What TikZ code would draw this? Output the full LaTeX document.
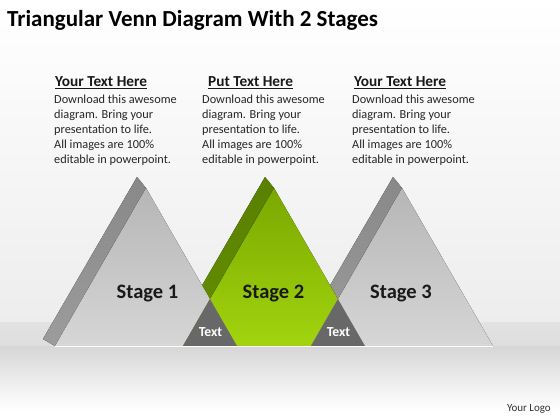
\documentclass[tikz,border=0pt]{standalone}
\usepackage{fontspec}
\setmainfont{Carlito}
\usetikzlibrary{calc}

\definecolor{frontlight}{HTML}{D6D6D6}
\definecolor{frontdark}{HTML}{B6B6B6}
\definecolor{sidelight}{HTML}{9C9C9C}
\definecolor{sidedark}{HTML}{888888}
\definecolor{greenlight}{HTML}{A2D40E}
\definecolor{greendark}{HTML}{7BA800}
\definecolor{greenside}{HTML}{668F00}
\definecolor{greensidedark}{HTML}{5A8000}
\definecolor{lensgray}{HTML}{686868}
\definecolor{floorgray}{HTML}{E2E2E2}
\definecolor{bodytext}{HTML}{262626}

\tikzset{
  side/.style={top color=sidedark,bottom color=sidelight},
  front/.style={top color=frontdark,bottom color=frontlight},
  stagelabel/.style={font=\bfseries\fontsize{20.5}{24}\selectfont,text=black!90,anchor=base,inner sep=0pt},
  lenslabel/.style={font=\bfseries\fontsize{13.8}{16}\selectfont,text=white,anchor=base,inner sep=0pt},
  headlabel/.style={font=\bfseries\fontsize{15.3}{18}\selectfont,text=black!90,anchor=base west,inner sep=0pt},
  bodylabel/.style={font=\fontsize{12.3}{15}\selectfont,text=bodytext,align=left,anchor=north west,inner sep=0pt}
}

\begin{document}
\begin{tikzpicture}[x=1pt,y=-1pt]
\useasboundingbox (0,0) rectangle (560,420);

% background and floor
\fill[top color=white,bottom color=white!93!black] (0,0) rectangle (560,322);
\fill[top color=floorgray,bottom color=white!87!black] (0,322) rectangle (560,346);
\fill[top color=white!84!black,bottom color=white] (0,346) rectangle (560,410);
\fill[white] (0,410) rectangle (560,420);

\coordinate (a1) at (146,188);
\coordinate (l1) at (55,346);
\coordinate (r1) at (237,346);
\coordinate (a2) at (274,188);
\coordinate (l2) at (183,346);
\coordinate (r2) at (365,346);
\coordinate (a3) at (402,188);
\coordinate (l3) at (311,346);
\coordinate (r3) at (493,346);

\coordinate (x12) at (intersection of a1--r1 and a2--l2);
\coordinate (x23) at (intersection of a2--r2 and a3--l3);

% side faces
\fill[side] ($(a1)+(-9,-11)$) -- (a1) -- (l1) -- ($(l1)+(-12,-7)$) -- cycle;
\fill[top color=greensidedark,bottom color=greenside] ($(a2)+(-9,-11)$) -- (a2) -- (l2) -- ($(l2)+(-12,-7)$) -- cycle;
\fill[side] ($(a3)+(-9,-11)$) -- (a3) -- (l3) -- ($(l3)+(-12,-7)$) -- cycle;

% front faces
\fill[front] (a1) -- (l1) -- (r1) -- cycle;
\fill[top color=greendark,bottom color=greenlight] (a2) -- (l2) -- (r2) -- cycle;
\fill[front] (a3) -- (l3) -- (r3) -- cycle;

% overlaps
\fill[lensgray] (x12) -- (l2) -- (r1) -- cycle;
\fill[lensgray] (x23) -- (l3) -- (r2) -- cycle;

\draw[white,line width=1pt] (l1) -- (r3);

\node[stagelabel] (s1) at (147.5,298) {Stage 1};
\node[stagelabel] (s2) at (273.5,298) {Stage 2};
\node[stagelabel] (s3) at (401,298) {Stage 3};
\node[lenslabel] (t12) at (210.5,336.7) {Text};
\node[lenslabel] (t23) at (338.5,336.7) {Text};

% texts on top
\node[font=\bfseries\fontsize{23}{27}\selectfont,anchor=base west,inner sep=0pt] (title) at (7,27) {Triangular Venn Diagram With 2 Stages};

\node[headlabel] (h1) at (55,86.7) {\underline{Your Text Here}};
\node[headlabel] (h2) at (208,86.7) {\underline{Put Text Here}};
\node[headlabel] (h3) at (354,86.7) {\underline{Your Text Here}};

\node[bodylabel] (b1) at (54,94.5) {Download this awesome\\diagram. Bring your\\presentation to life.\\All images are 100\%\\editable in powerpoint.};
\node[bodylabel] (b2) at (202,94.5) {Download this awesome\\diagram. Bring your\\presentation to life.\\All images are 100\%\\editable in powerpoint.};
\node[bodylabel] (b3) at (352,94.5) {Download this awesome\\diagram. Bring your\\presentation to life.\\All images are 100\%\\editable in powerpoint.};

\node[font=\fontsize{11}{13}\selectfont,text=black!80,anchor=base east,inner sep=0pt] (logo) at (551,411.7) {Your Logo};

\end{tikzpicture}
\end{document}
